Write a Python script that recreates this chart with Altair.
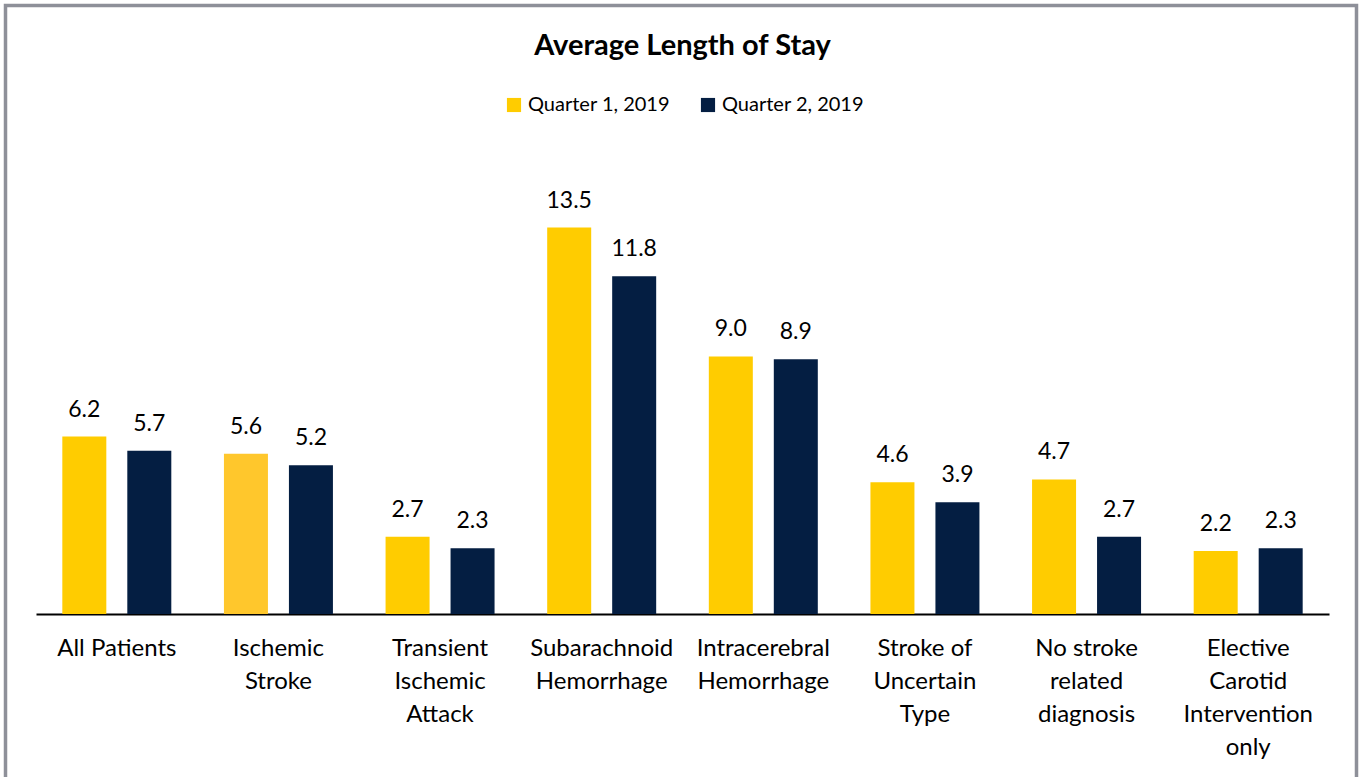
import altair as alt
import pandas as pd

# Axis categories ("|" marks a line break in the axis label)
categories = [
    "All Patients",
    "Ischemic|Stroke",
    "Transient|Ischemic|Attack",
    "Subarachnoid|Hemorrhage",
    "Intracerebral|Hemorrhage",
    "Stroke of|Uncertain|Type",
    "No stroke|related|diagnosis",
    "Elective|Carotid|Intervention|only",
]
series_names = ["Quarter 1, 2019", "Quarter 2, 2019"]
q1_values = [6.2, 5.6, 2.7, 13.5, 9.0, 4.6, 4.7, 2.2]
q2_values = [5.7, 5.2, 2.3, 11.8, 8.9, 3.9, 2.7, 2.3]
series_colors = ["#FFCC00", "#041E42"]

rows = []
for cat, a, b in zip(categories, q1_values, q2_values):
    rows.append({"category": cat, "series": series_names[0], "value": a})
    rows.append({"category": cat, "series": series_names[1], "value": b})
df = pd.DataFrame(rows)

FONT = "Lato"

x_enc = alt.X(
    "category:N",
    sort=categories,
    scale=alt.Scale(paddingInner=0, paddingOuter=0),
    axis=alt.Axis(
        title=None,
        labelAngle=0,
        ticks=False,
        grid=False,
        domainColor="#000000",
        domainWidth=2,
        labelColor="#000000",
        labelFont=FONT,
        labelFontSize=24,
        labelLineHeight=33,
        labelPadding=22,
        labelLimit=220,
        labelExpr="split(datum.label, '|')",
    ),
)
xoff_enc = alt.XOffset(
    "series:N",
    sort=series_names,
    scale=alt.Scale(paddingInner=0.323, paddingOuter=0.405),
)
y_enc = alt.Y("value:Q", scale=alt.Scale(domain=[0, 16]), axis=None)

base = alt.Chart(df)

bars = base.mark_bar().encode(
    x=x_enc,
    xOffset=xoff_enc,
    y=y_enc,
    color=alt.condition(
        (alt.datum.category == "Ischemic|Stroke") & (alt.datum.series == series_names[0]),
        alt.value("#FFC72C"),
        alt.Color(
            "series:N",
            sort=series_names,
            scale=alt.Scale(domain=series_names, range=series_colors),
            legend=alt.Legend(
                title=None,
                orient="none",
                direction="horizontal",
                legendX=468,
                legendY=-61,
                symbolType="square",
                symbolSize=200,
                symbolStrokeWidth=0,
                labelFont=FONT,
                labelFontSize=20,
                labelColor="#000000",
                columnPadding=28,
                labelOffset=4,
            ),
        ),
    ),
)

labels = base.mark_text(
    font=FONT, fontSize=23, color="#000000", baseline="alphabetic", dy=-20
).encode(
    x=x_enc,
    xOffset=xoff_enc,
    y=y_enc,
    text=alt.Text("value:Q", format=".1f"),
)

# Grey frame around the whole figure
frame = alt.Chart(pd.DataFrame({"k": [0]})).mark_rect(
    fill="transparent", stroke="#8E9099", strokeWidth=3.5
).encode(
    x=alt.value(-30.5),
    x2=alt.value(1320.5),
    y=alt.value(-150.5),
    y2=alt.value(700),
)

chart = (
    alt.layer(frame, bars, labels)
    .properties(
        width=1293,
        height=458,
        background="#FFFFFF",
        title=alt.TitleParams(
            "Average Length of Stay",
            font=FONT,
            fontSize=29,
            fontWeight="bold",
            color="#000000",
            anchor="middle",
            offset=0,
            dy=57,
        ),
        padding={"left": 36, "top": 156, "right": 30, "bottom": 163},
        autosize=alt.AutoSizeParams(type="none"),
    )
    .configure_view(stroke="transparent", strokeWidth=0)
)

chart.save("out.html", embed_options={"renderer": "svg", "actions": False})
